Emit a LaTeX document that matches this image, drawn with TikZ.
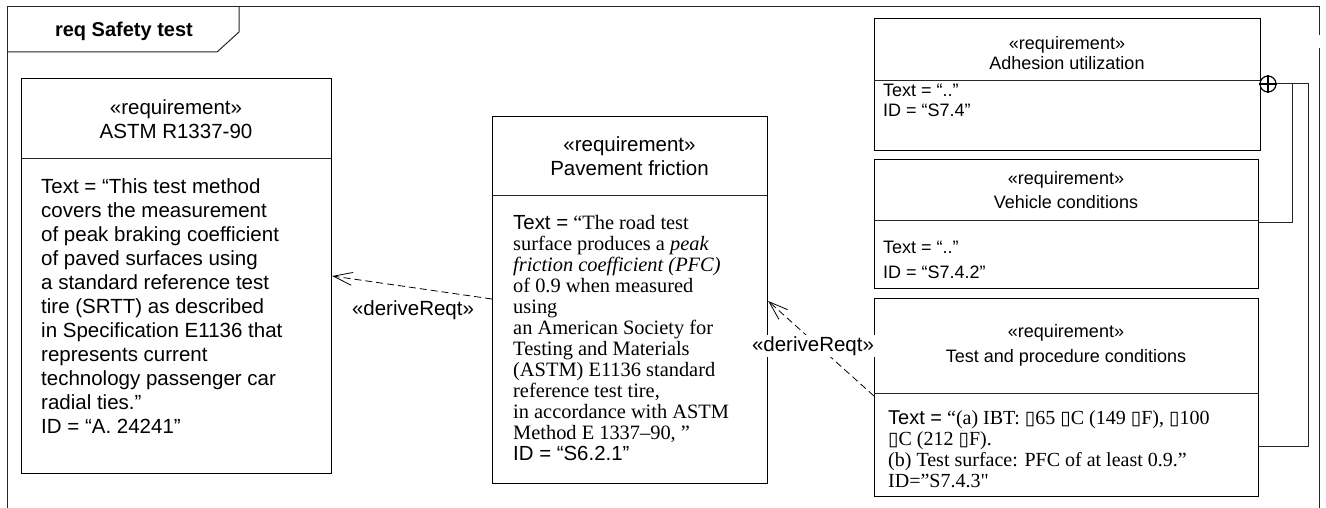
\documentclass[tikz,border=0pt]{standalone}
\usepackage{fontspec}
\setmainfont{Liberation Serif}
\newfontfamily\arial{Liberation Sans}
\newfontfamily\timesraw[Ligatures=TeXOff]{Liberation Serif}
\newfontfamily\dvs{DejaVu Sans}
\usetikzlibrary{arrows.meta}
\newcommand\sqg{{\dvs\fontsize{19}{19}\selectfont ▯}}
\tikzset{
  frameline/.style={line width=1pt, draw=black!85},
  reqbox/.style={draw=black, line width=1.2pt, inner sep=0pt, anchor=north west},
  divline/.style={line width=1pt, draw=black!85},
  hdrbig/.style={font=\arial\fontsize{20.5}{24}\selectfont, align=center, inner sep=0pt},
  hdrsmall/.style={font=\arial\fontsize{18}{#1}\selectfont, align=center, inner sep=0pt},
  bodytext/.style={align=left, inner sep=0pt, anchor=base west},
  dep/.style={draw=black, line width=0.8pt, dash pattern=on 7pt off 4pt,
    -{Straight Barb[length=19pt,width=13pt,line width=0.8pt]}},
  deplabel/.style={font=\arial\fontsize{20.5}{24}\selectfont, inner sep=1pt},
  wire/.style={draw=black!85, line width=1pt},
}
\begin{document}
\begin{tikzpicture}[x=1pt,y=-1pt]
\useasboundingbox (0,0) rectangle (1326,508);
% frame
\draw[frameline] (7.5,508) -- (7.5,7) -- (1319,7) -- (1319,35);
\draw[frameline] (1319,48) -- (1319,508);
\draw[frameline] (7.5,52) -- (217,52) -- (239,32) -- (239,7);
\node[font=\arial\bfseries\fontsize{20}{24}\selectfont, inner sep=0pt] (title) at (124,31) {req Safety test};

% boxes
\node[reqbox, minimum width=310pt, minimum height=395pt] (b1) at (21,78) {};
\node[reqbox, minimum width=275pt, minimum height=367pt] (b2) at (492,116) {};
\node[reqbox, minimum width=386pt, minimum height=132pt] (b3) at (874,18) {};
\node[reqbox, minimum width=384pt, minimum height=129pt] (b4) at (874,159) {};
\node[reqbox, minimum width=384pt, minimum height=198pt] (b5) at (874,298) {};

% dividers
\draw[divline] (21,159) -- (331,159);
\draw[divline] (492,196) -- (767,196);
\draw[divline] (874,81) -- (1260,81);
\draw[divline] (874,220) -- (1258,220);
\draw[divline] (874,393) -- (1258,393);

% headers
\node[hdrbig] (h1) at (176,119) {«requirement»\\ASTM R1337-90};
\node[hdrbig] (h2) at (629.5,156) {«requirement»\\Pavement friction};
\node[hdrsmall=20] (h3) at (1067,53) {«requirement»\\Adhesion utilization};
\node[hdrsmall=24] (h4) at (1066,190) {«requirement»\\Vehicle conditions};
\node[hdrsmall=25] (h5) at (1066,345.5) {«requirement»\\Test and procedure conditions};

% bodies (anchor = baseline of the last line)
\node[bodytext, font=\arial\fontsize{20.5}{24}\selectfont] (t1) at (41,433.4)
 {Text = “This test method\\covers the measurement\\of peak braking coefficient\\of paved surfaces using\\a standard reference test\\tire (SRTT) as described\\in Specification E1136 that\\represents current\\technology passenger car\\radial ties.”\\ID = “A. 24241”};
\node[bodytext, font=\fontsize{20.4}{21}\selectfont] (t2) at (513,460.4)
 {{\arial Text =} “The road test\\surface produces a \textit{peak}\\\textit{friction coefficient (PFC)}\\of 0.9 when measured\\using\\an American Society for\\Testing and Materials\\(ASTM) E1136 standard\\reference test tire,\\in accordance with ASTM\\Method E 1337–90, ”\\{\arial ID = “S6.2.1”}};
\node[bodytext, font=\arial\fontsize{18}{19.5}\selectfont] (t3) at (883,116.5)
 {Text = “..”\\ID = “S7.4”};
\node[bodytext, font=\arial\fontsize{18}{25}\selectfont] (t4) at (883,278.5)
 {Text = “..”\\ID = “S7.4.2”};
\node[bodytext, font=\fontsize{20}{21}\selectfont] (t5) at (888,487)
 {{\arial Text =} “(a) IBT: \sqg65 \sqg C (149 \sqg F), \sqg100\\\sqg C (212 \sqg F).\\(b) Test surface: PFC of at least 0.9.”\\{\timesraw ID=”S7.4.3"}};

% dependency connectors
\coordinate (y276) at (0,276);
\coordinate (y299) at (0,299);
\coordinate (y301) at (0,301);
\coordinate (y396) at (0,396);
\draw[dep] (b2.west |- y299) -- (b1.east |- y276);
\node[deplabel] (l1) at (413,310) {«deriveReqt»};
\draw[dep] (b5.west |- y396) -- (b2.east |- y301);
\node[deplabel, fill=white] (l2) at (813,346) {«deriveReqt»};

% containment
\node[circle, draw=black, line width=1.2pt, minimum size=16pt, inner sep=0pt] (cp) at (1268,84) {};
\draw[line width=1.2pt] (cp.north) -- (cp.south) (cp.west) -- (cp.east);
\coordinate (k1) at (1292,84);
\coordinate (k2) at (1308,84);
\coordinate (y222) at (0,222.5);
\coordinate (y446) at (0,446);
\draw[wire] (cp.east) -- (k2) -- (k2 |- y446) -- (b5.east |- y446);
\draw[wire] (k1) -- (k1 |- y222) -- (b4.east |- y222);
\end{tikzpicture}
\end{document}
